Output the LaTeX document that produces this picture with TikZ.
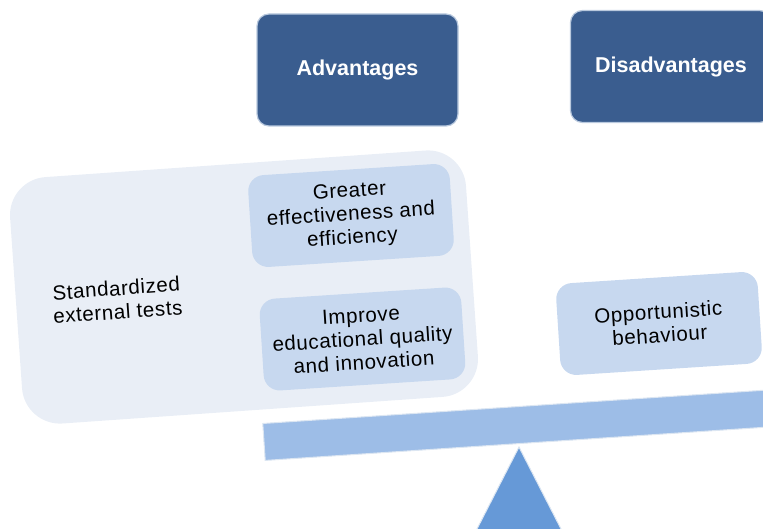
\documentclass[tikz,border=0pt]{standalone}
\usepackage{fontspec}
\setmainfont{Liberation Sans}
\newfontfamily\spacedfont[LetterSpace=3]{Liberation Sans}
\definecolor{darkbox}{HTML}{3A5D8F}
\definecolor{darkedge}{HTML}{B9C9DE}
\definecolor{panelfill}{HTML}{E9EEF6}
\definecolor{itemfill}{HTML}{C7D8EF}
\definecolor{beamfill}{HTML}{9DBDE7}
\definecolor{trifill}{HTML}{6699D7}
\definecolor{edgelight}{HTML}{DCE6F2}
\tikzset{
  headbox/.style={draw=darkedge, line width=1.2pt, fill=darkbox, rounded corners=12pt,
    minimum width=201pt, minimum height=112pt, text=white,
    font=\fontsize{21.5}{24}\selectfont\bfseries},
  itembox/.style={fill=itemfill, rounded corners=16pt, rotate=3.7,
    minimum width=202pt, minimum height=92pt, align=center,
    font=\spacedfont\fontsize{20.5}{23.5}\selectfont},
  panelbox/.style={fill=panelfill, rounded corners=38pt, rotate=4,
    minimum width=457pt, minimum height=247pt},
  paneltext/.style={rotate=4, align=center, font=\spacedfont\fontsize{20.5}{23.5}\selectfont},
  beambox/.style={draw=edgelight, line width=1pt, fill=beamfill, rotate=3.8,
    minimum width=620pt, minimum height=37pt, anchor=west},
}
\begin{document}
\begin{tikzpicture}[x=1pt,y=1pt]
\useasboundingbox (0,0) rectangle (763,528);
\clip (0,0) rectangle (763,528);
% heads
\node[headbox] (adv) at (357.5,458) {Advantages};
\node[headbox] (dis) at (671,461.5) {Disadvantages};
% panel
\node[panelbox] (panel) at (244,241) {};
\node[paneltext] (std) at (117,228) {Standardized\\external tests};
% items
\node[itembox] (greater) at (351,312.5) {Greater\\effectiveness and\\efficiency};
\node[itembox] (improve) at (362.5,189) {Improve\\educational quality\\and innovation};
\node[itembox] (opp) at (659,204.5) {Opportunistic\\behaviour};
% beam
\node[beambox] (beam) at (263.5,86) {};
% fulcrum
\coordinate (apex) at (519,81);
\coordinate (bl) at (440.6,-72);
\coordinate (br) at (597.4,-72);
\draw[draw=edgelight, line width=1pt, fill=trifill] (apex) -- (br) -- (bl) -- cycle;
\end{tikzpicture}
\end{document}
